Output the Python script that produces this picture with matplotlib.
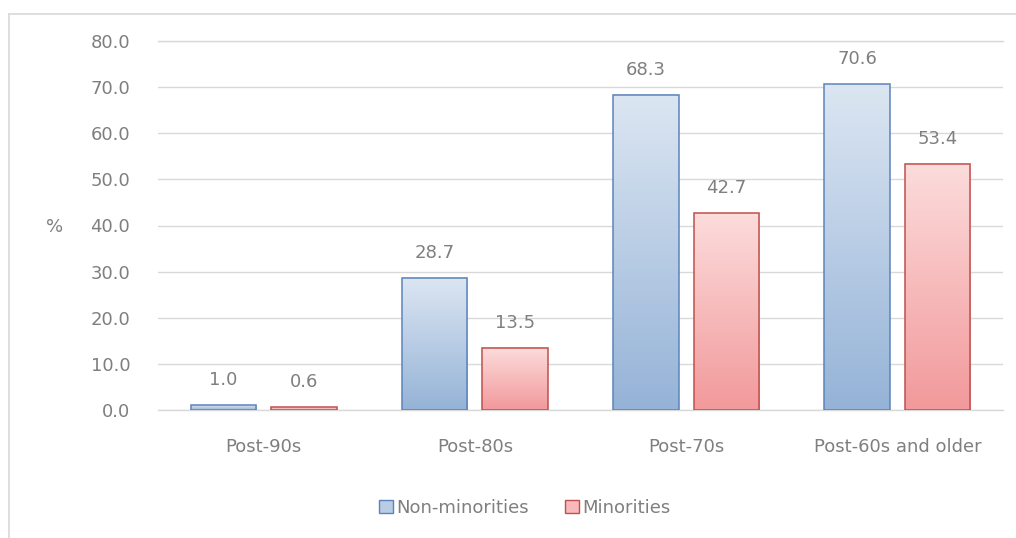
import numpy as np
import matplotlib
matplotlib.use("Agg")
import matplotlib.pyplot as plt
from matplotlib.patches import Patch
from matplotlib.colors import LinearSegmentedColormap

plt.rcParams["font.family"] = ["DejaVu Sans"]

categories = ["Post-90s", "Post-80s", "Post-70s", "Post-60s and older"]
non_minorities = [1.0, 28.7, 68.3, 70.6]
minorities = [0.6, 13.5, 42.7, 53.4]
series_names = ["Non-minorities", "Minorities"]
y_ticks = [0, 10, 20, 30, 40, 50, 60, 70, 80]

text_color = "#7f7f7f"
grid_color = "#d9d9d9"
fs = 13

fig = plt.figure(figsize=(10.16, 5.38), dpi=100)
ax = fig.add_axes([158 / 1016, 1 - 410 / 538, (1003 - 158) / 1016, (410 - 41) / 538])

# outer chart frame (partially visible in reference)
fig.add_artist(plt.Line2D([9 / 1016, 9 / 1016], [0, 1 - 14 / 538], transform=fig.transFigure,
                          color="#d9d9d9", lw=1.2))
fig.add_artist(plt.Line2D([9 / 1016, 1.0], [1 - 14 / 538, 1 - 14 / 538], transform=fig.transFigure,
                          color="#d9d9d9", lw=1.2))

x = np.arange(len(categories))
w = 0.31
gap = 0.07
off = (w + gap) / 2

cmap_blue = LinearSegmentedColormap.from_list("b", ["#95b3d7", "#dce6f2"])
cmap_red = LinearSegmentedColormap.from_list("r", ["#f2999b", "#fcdcdc"])
edge_blue = "#5b84bb"
edge_red = "#c0504d"

grad = np.linspace(0, 1, 256).reshape(-1, 1)

def draw(values, xpos, cmap, edge):
    bars = ax.bar(xpos, values, width=w, facecolor="none", edgecolor=edge, linewidth=1.1, zorder=3)
    for b, v in zip(bars, values):
        bx, bw, bh = b.get_x(), b.get_width(), b.get_height()
        ax.imshow(grad, extent=[bx, bx + bw, 0, bh], origin="lower", cmap=cmap,
                  aspect="auto", zorder=2)
        ax.annotate(f"{v:.1f}", (bx + bw / 2, bh), xytext=(0, 18), textcoords="offset points",
                    ha="center", va="center", fontsize=fs, color=text_color)
    return bars

draw(non_minorities, x - off, cmap_blue, edge_blue)
draw(minorities, x + off, cmap_red, edge_red)

ax.set_xlim(-0.5, len(categories) - 0.5)
ax.set_ylim(0, 80)
ax.set_yticks(y_ticks)
ax.set_yticklabels([f"{t:.1f}" for t in y_ticks])
ax.set_xticks(x)
ax.set_xticklabels(categories)
ax.tick_params(axis="both", length=0, colors=text_color, labelsize=fs)
ax.tick_params(axis="y", pad=20)
ax.tick_params(axis="x", pad=20)
ax.grid(axis="y", color=grid_color, lw=1.0, zorder=0)
ax.axhline(0, color=grid_color, lw=1.0, zorder=1, clip_on=False)
ax.axhline(80, color=grid_color, lw=1.0, zorder=1, clip_on=False)
ax.set_axisbelow(True)
for s in ax.spines.values():
    s.set_visible(False)
ax.set_aspect("auto")

fig.text(55 / 1016, 1 - 227 / 538, "%", ha="center", va="center", fontsize=fs, color=text_color)

handles = [Patch(facecolor="#b8cce4", edgecolor=edge_blue, lw=1.0),
           Patch(facecolor="#f7b9ba", edgecolor=edge_red, lw=1.0)]
leg = fig.legend(handles, series_names, loc="center", bbox_to_anchor=(525 / 1016, 1 - 508 / 538),
                 ncol=2, frameon=False, fontsize=fs, handlelength=0.75, handleheight=0.75,
                 handletextpad=0.2, columnspacing=2.0, labelcolor=text_color)

fig.savefig("out.png", dpi=100)
